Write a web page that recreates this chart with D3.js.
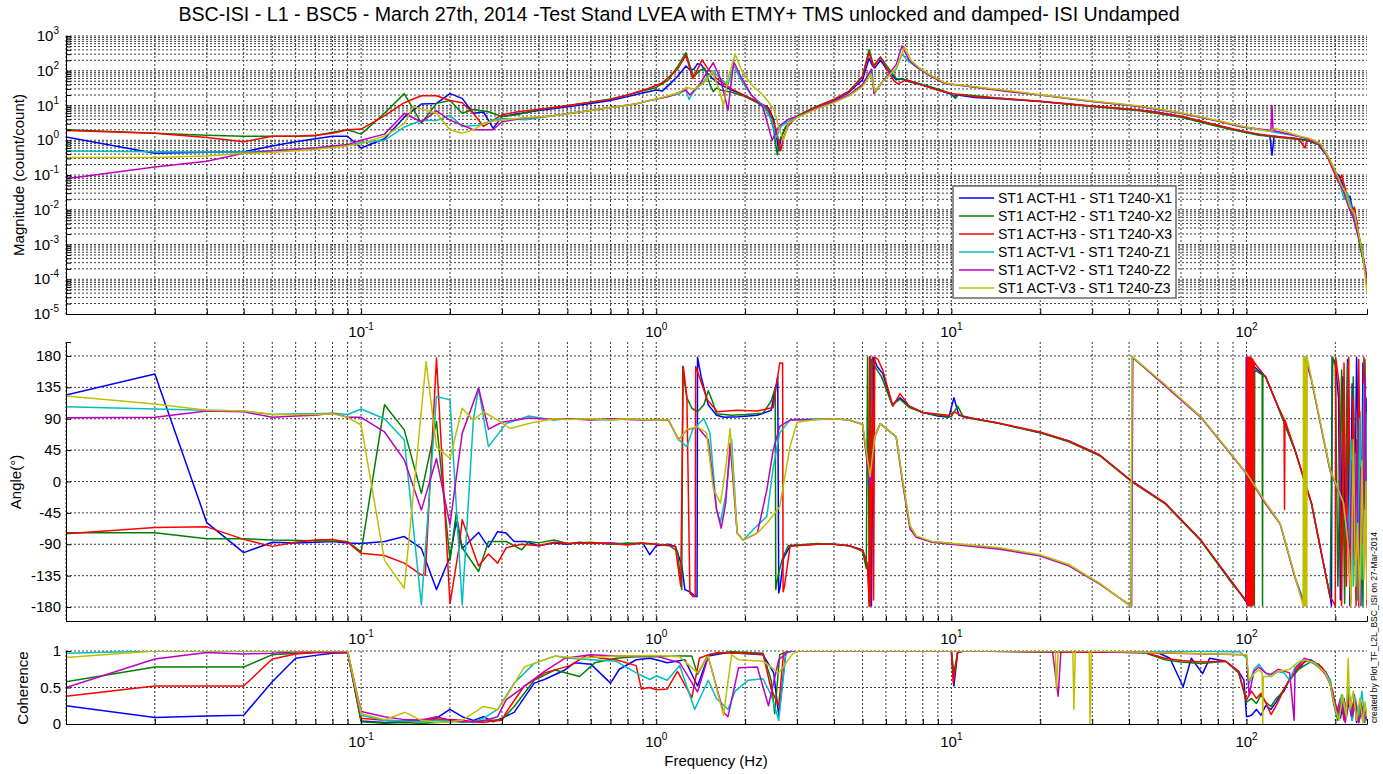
<!DOCTYPE html>
<html>
<head>
<meta charset="utf-8">
<script src="https://cdn.jsdelivr.net/npm/d3@7"></script>
<style>
body { margin: 0; background: #fff; }
svg { font-family: "Liberation Sans", Arial, Helvetica, sans-serif; }
</style>
</head>
<body>
<div id="chart"></div>
<script>
// Series names / colours (legend order)
const seriesNames = [
    "ST1 ACT-H1 - ST1 T240-X1",
    "ST1 ACT-H2 - ST1 T240-X2",
    "ST1 ACT-H3 - ST1 T240-X3",
    "ST1 ACT-V1 - ST1 T240-Z1",
    "ST1 ACT-V2 - ST1 T240-Z2",
    "ST1 ACT-V3 - ST1 T240-Z3"
];
const seriesColors = ["#0000ff", "#008000", "#ff0000", "#00bfbf", "#bf00bf", "#bfbf00"];

const titleText = "BSC-ISI - L1 - BSC5 - March 27th, 2014 -Test Stand LVEA with ETMY+ TMS unlocked and damped- ISI Undamped";
const creditText = "created by Plot_TF_L2L_BSC_ISI on 27-Mar-2014";

const phaseTicks = [-180, -135, -90, -45, 0, 45, 90, 135, 180];
const cohTicks = [0, 0.5, 1];
const cohTickLabels = ["0", "0.5", "1"];
const freqLabelExps = [-1, 0, 1, 2];
const magLabelExps = [-5, -4, -3, -2, -1, 0, 1, 2, 3];

// Magnitude [Hz, count/count]
const magH1 = [[0.01,1.25],[0.02,0.42],[0.03,0.45],[0.04,0.47],[0.05,0.68],[0.06,0.9],[0.07,1.1],[0.08,1.3],[0.09,1.3],[0.1,0.6],[0.12,1.1],[0.14,4.6],[0.16,11],[0.18,11.5],[0.2,22],[0.22,16],[0.24,6],[0.26,6.5],[0.28,2.2],[0.3,4.8],[0.34,5.8],[0.4,7.2],[0.5,9.2],[0.6,11.5],[0.7,14],[0.8,18],[0.9,23],[1.0,28],[1.05,26],[1.1,38],[1.18,68],[1.26,137],[1.3,105],[1.34,110],[1.38,160],[1.42,150],[1.48,90],[1.55,60],[1.65,40],[1.8,28],[2.0,19],[2.2,13],[2.4,8.5],[2.5,4],[2.6,0.5],[2.65,1.2],[2.75,2.5],[3.0,4.8],[3.5,9],[4.0,14],[4.5,24],[5.0,55],[5.26,230],[5.4,140],[5.5,120],[5.75,200],[6.0,120],[6.5,55],[6.8,60],[7.2,48],[8,38],[9,28],[10,21],[10.2,18],[10.5,20],[12,17],[15,15.5],[20,13],[30,9.5],[43.6,7.3],[50,6.4],[60,4.8],[70,3.5],[80,2.6],[90,2.0],[100,1.7],[120,1.3],[122,0.37],[124,1.3],[150,1.1],[160,1.0],[175,0.75],[190,0.3],[200,0.12],[207,0.09],[212,0.05],[218,0.02],[224,0.025],[230,0.008],[236,0.005],[242,0.001],[248,0.0004],[252,0.0002],[256,0.00006]];
const magH2 = [[0.01,2.0],[0.02,1.6],[0.03,1.4],[0.04,1.3],[0.05,1.3],[0.06,1.3],[0.07,1.35],[0.08,1.7],[0.09,2.0],[0.1,1.5],[0.12,6],[0.14,22],[0.16,3.1],[0.18,11.5],[0.2,14],[0.22,6],[0.24,7.7],[0.27,6.6],[0.3,4.8],[0.34,5.5],[0.4,7.6],[0.5,10],[0.6,12.5],[0.7,15.5],[0.8,20],[0.9,26],[1.0,33],[1.1,55],[1.18,130],[1.26,330],[1.3,140],[1.34,68],[1.4,100],[1.46,118],[1.52,40],[1.56,25],[1.6,32],[1.65,28],[1.8,24],[2.0,18],[2.2,12],[2.4,7],[2.5,2],[2.57,0.38],[2.62,1.0],[2.75,2.5],[3.0,5],[3.5,9.5],[4,15],[4.5,26],[5.0,70],[5.26,400],[5.45,140],[5.75,250],[6.0,150],[6.5,60],[7.0,55],[8,40],[9,30],[10,22],[10.3,16],[10.6,21],[15,16],[20,13],[30,9.3],[43.6,7.1],[60,4.6],[80,2.5],[95,1.8],[110,1.4],[130,1.2],[150,1.05],[165,0.95],[178,0.7],[188,0.35],[198,0.14],[206,0.08],[214,0.03],[222,0.012],[230,0.006],[238,0.002],[246,0.0005],[256,0.0001]];
const magH3 = [[0.01,1.9],[0.02,1.6],[0.03,1.2],[0.04,0.9],[0.05,1.3],[0.06,1.3],[0.07,1.4],[0.08,1.6],[0.09,2.0],[0.1,2.1],[0.12,5],[0.14,12],[0.16,19],[0.18,19],[0.2,14],[0.22,12],[0.24,6],[0.26,2.5],[0.28,3.8],[0.3,5.4],[0.34,6.6],[0.4,7.8],[0.48,9.4],[0.6,12.5],[0.7,15],[0.8,20],[0.95,32],[1.05,45],[1.18,110],[1.26,280],[1.33,60],[1.38,110],[1.43,205],[1.5,110],[1.6,60],[1.8,30],[2.0,19],[2.2,13],[2.4,8],[2.55,2],[2.64,0.5],[2.7,1.2],[2.8,2.6],[3.0,4.8],[3.5,9.3],[4,15],[4.5,25],[5.0,68],[5.26,330],[5.45,130],[5.75,245],[6.0,130],[6.4,50],[6.6,42],[7.0,54],[8,38],[9,28],[10,22],[12,18],[15,16],[20,13.2],[30,9.6],[43.6,7.4],[60,4.9],[80,2.7],[95,1.9],[110,1.5],[130,1.25],[150,1.1],[158,0.6],[160,1.05],[175,0.8],[185,0.45],[195,0.16],[205,0.06],[210,0.1],[218,0.03],[226,0.008],[232,0.012],[240,0.002],[248,0.0005],[256,0.00008]];
const magV1 = [[0.01,0.49],[0.02,0.47],[0.03,0.46],[0.04,0.46],[0.05,0.5],[0.06,0.55],[0.07,0.6],[0.08,0.65],[0.09,0.7],[0.1,0.85],[0.12,1.0],[0.14,2.4],[0.16,3.7],[0.18,3.7],[0.2,5.2],[0.22,2.5],[0.25,2.7],[0.28,3.8],[0.3,4.2],[0.36,3.9],[0.44,5],[0.56,6.6],[0.7,8.8],[0.85,11],[0.95,14],[1.1,18],[1.2,22],[1.26,28],[1.29,15],[1.34,25],[1.45,50],[1.55,100],[1.65,60],[1.75,40],[1.83,140],[1.95,50],[2.1,20],[2.3,10],[2.45,4],[2.55,1.2],[2.65,2.5],[2.8,3.5],[3.0,4.5],[3.5,8.5],[4,13],[4.5,20],[5.0,40],[5.38,110],[5.47,22],[5.8,45],[6.5,110],[6.8,300],[7.2,180],[7.6,130],[8.5,70],[9.5,44],[10.2,40],[15,27],[20,20],[30,13],[43.6,9.4],[60,6],[80,3.6],[95,2.5],[120,1.8],[150,1.3],[165,1.05],[178,0.75],[190,0.3],[200,0.12],[208,0.05],[214,0.02],[220,0.03],[228,0.01],[236,0.003],[244,0.001],[250,0.0003],[256,0.0001]];
const magV2 = [[0.01,0.078],[0.02,0.17],[0.03,0.25],[0.04,0.42],[0.05,0.5],[0.06,0.55],[0.07,0.6],[0.08,0.68],[0.09,0.75],[0.1,1.0],[0.12,1.5],[0.14,5.9],[0.16,3.4],[0.18,7],[0.2,3.8],[0.24,2],[0.28,2],[0.3,3.4],[0.35,4.2],[0.44,5],[0.56,6.6],[0.7,8.8],[0.85,11],[0.95,14],[1.1,18],[1.2,24],[1.26,28],[1.3,20],[1.4,40],[1.56,170],[1.65,60],[1.75,7.4],[1.83,182],[1.95,60],[2.1,20],[2.3,9],[2.47,1.0],[2.6,2.5],[2.8,4],[3.0,4.8],[3.5,8.5],[4,13],[4.5,20],[5.0,40],[5.35,110],[5.47,22],[5.8,45],[6.5,150],[6.8,520],[7.2,200],[7.6,130],[8.5,70],[9.5,43],[10.2,40],[15,26],[20,20],[30,13],[43.6,9.4],[60,6],[80,3.6],[95,2.5],[121,1.9],[122,10],[123,1.9],[150,1.3],[165,1.05],[178,0.78],[190,0.3],[200,0.13],[208,0.05],[215,0.03],[222,0.012],[230,0.006],[238,0.002],[246,0.0008],[256,0.0001]];
const magV3 = [[0.01,0.32],[0.02,0.32],[0.03,0.35],[0.04,0.42],[0.05,0.45],[0.06,0.5],[0.07,0.55],[0.08,0.62],[0.09,0.7],[0.1,0.8],[0.12,1.3],[0.14,3],[0.15,9.3],[0.16,8],[0.18,6],[0.2,2],[0.22,1.6],[0.24,2],[0.26,3],[0.28,3.5],[0.3,3.8],[0.35,4.4],[0.44,5],[0.56,6.6],[0.7,8.8],[0.85,11],[0.95,14],[1.1,19],[1.2,24],[1.26,33],[1.35,30],[1.45,45],[1.55,94],[1.63,30],[1.69,10],[1.75,60],[1.85,300],[1.95,100],[2.1,40],[2.3,20],[2.5,8],[2.62,2],[2.7,1.0],[2.8,3],[3.0,4.5],[3.5,8],[4,12],[4.5,19],[5.0,35],[5.35,80],[5.5,25],[5.8,45],[6.5,120],[6.95,490],[7.3,200],[7.8,120],[8.5,75],[9.5,45],[10.2,41],[15,28],[20,20.5],[30,13.5],[43.6,9.6],[60,6.2],[80,3.7],[95,2.6],[120,1.8],[125,2.2],[150,1.35],[165,1.1],[178,0.8],[190,0.32],[200,0.13],[210,0.05],[217,0.03],[224,0.012],[232,0.008],[240,0.002],[248,0.0005],[256,0.00004]];

// Phase [Hz, deg]
const phaH1 = [[0.01,124],[0.02,154],[0.03,-59],[0.04,-102],[0.05,-87],[0.06,-88],[0.07,-87],[0.08,-86],[0.09,-88],[0.1,-89],[0.12,-86],[0.14,-79],[0.16,-96],[0.18,-155],[0.2,-108],[0.21,-58],[0.22,-96],[0.25,-73],[0.27,-94],[0.29,-72],[0.31,-74],[0.33,-86],[0.36,-86],[0.4,-92],[0.45,-88],[0.5,-90],[0.55,-87],[0.6,-89],[0.7,-88],[0.8,-90],[0.9,-88],[0.95,-105],[1.0,-92],[1.1,-90],[1.16,-93],[1.22,-120],[1.25,-155],[1.3,-158],[1.36,-165],[1.375,-165],[1.38,178],[1.42,150],[1.5,110],[1.6,95],[1.7,92],[1.9,93],[2.2,95],[2.45,102],[2.58,150],[2.6,-160],[2.63,-150],[2.7,-110],[2.84,-92],[3.5,-90],[4,-90],[4.5,-92],[5.0,-98],[5.2,-120],[5.28,-178],[5.3,178],[5.36,-178],[5.45,178],[5.6,165],[5.85,155],[6.3,110],[6.7,120],[7.2,108],[8,99],[9,94],[9.8,92],[10.2,120],[10.6,95],[12,90],[14.6,83],[20,70],[25,58],[31.8,38],[41,0],[53,-31],[70,-84],[90,-146],[99.5,-172],[99.8,178],[100.1,-176],[100.4,178],[100.7,-174],[101,176],[101.5,172],[116,150],[128,107],[146,45],[166,-31],[192,-165],[194,-178],[195,178],[200,170],[205,120],[208,-170],[212,150],[216,-90],[220,175],[224,-178],[228,140],[232,-120],[236,178],[240,30],[244,-178],[248,170],[252,-40],[256,120]];
const phaH2 = [[0.01,-73.5],[0.02,-73.5],[0.03,-82],[0.04,-82],[0.05,-84],[0.07,-85],[0.09,-86],[0.1,-101],[0.12,110],[0.14,74],[0.16,-17],[0.18,86],[0.2,-113],[0.21,-46],[0.22,-95],[0.25,-129],[0.27,-86],[0.31,-86],[0.33,-92],[0.35,-98],[0.37,-86],[0.4,-88],[0.45,-84],[0.5,-89],[0.6,-87],[0.7,-90],[0.8,-88],[0.9,-89],[1.0,-90],[1.1,-91],[1.18,-100],[1.22,-155],[1.23,165],[1.25,140],[1.27,120],[1.32,105],[1.38,100],[1.45,110],[1.5,130],[1.55,115],[1.6,97],[1.8,95],[2.0,96],[2.3,98],[2.45,115],[2.53,134],[2.54,-155],[2.6,-130],[2.68,-110],[2.8,-92],[3.5,-89],[4,-90],[4.5,-92],[5.0,-100],[5.15,-125],[5.2,178],[5.28,-175],[5.35,175],[5.5,165],[5.8,150],[6.3,110],[6.7,118],[7.2,106],[8,99],[9,95],[10,93],[10.5,108],[11,92],[14.6,83],[20,70],[25,57],[31.8,37],[41,-1],[53,-32],[70,-85],[90,-148],[102,-175],[102.5,178],[104,165],[106,162],[106.3,-178],[106.6,160],[113,153],[113.3,-178],[113.6,152],[116,151],[128,106],[146,44],[166,-32],[192,-166],[196,178],[200,165],[204,-150],[210,160],[215,-175],[220,170],[226,-120],[230,150],[236,-170],[242,100],[248,-178],[252,175],[256,-60]];
const phaH3 = [[0.01,-75],[0.02,-66],[0.03,-65],[0.04,-83],[0.05,-93],[0.06,-87],[0.07,-84],[0.08,-83],[0.09,-87],[0.1,-103],[0.12,-106],[0.14,-117],[0.16,-134],[0.165,-134],[0.18,177],[0.2,-175],[0.215,-93],[0.22,-55],[0.25,-121],[0.27,-104],[0.29,-117],[0.31,-95],[0.35,-90],[0.4,-92],[0.45,-87],[0.5,-89],[0.6,-88],[0.7,-89],[0.8,-91],[0.9,-88],[1.0,-90],[1.1,-92],[1.16,-93],[1.21,-150],[1.235,165],[1.27,120],[1.3,-160],[1.33,-165],[1.355,-165],[1.36,165],[1.4,150],[1.49,117],[1.61,100],[1.88,102],[2.2,101],[2.49,106],[2.62,170],[2.68,170],[2.69,-158],[2.72,-150],[2.84,-93],[3.5,-90],[4,-90],[4.5,-92],[5.0,-98],[5.2,-120],[5.27,-179],[5.28,179],[5.32,-178],[5.4,178],[5.45,-170],[5.5,178],[5.64,175],[5.85,160],[6.34,108],[6.7,126],[7.2,108],[8,99],[9.8,95],[10.2,100],[11,93],[14.6,83.5],[20,71],[25,58],[31.8,38],[41,0],[53,-31],[70,-84],[90,-146],[100,-172],[100.4,178],[100.8,-178],[101.2,178],[101.6,-178],[102,178],[102.4,-178],[102.8,178],[103.2,-178],[103.6,178],[104,-178],[104.4,176],[104.8,-178],[105.2,175],[105.6,-176],[106,172],[106.5,170],[116,150],[128,107],[134,90],[134.5,-40],[135,88],[146,45],[166,-31],[192,-165],[200,-178],[200.5,178],[206,140],[210,-178],[214,170],[218,-150],[222,178],[226,-170],[230,120],[235,-178],[240,175],[245,-120],[250,178],[256,-178]];
const phaV1 = [[0.01,107],[0.02,104],[0.03,102],[0.04,101],[0.05,96],[0.06,97],[0.07,97],[0.08,98],[0.09,96],[0.1,104],[0.12,90],[0.14,59.5],[0.16,-177],[0.18,122],[0.2,117],[0.22,-177],[0.24,88],[0.25,134],[0.27,50],[0.31,83],[0.37,94],[0.45,88],[0.5,90],[0.6,89],[0.7,88],[0.8,90],[0.9,89],[1.0,88],[1.1,88],[1.19,60],[1.27,50],[1.33,75],[1.45,90],[1.52,70],[1.6,-40],[1.65,-58],[1.72,-20],[1.8,60],[1.88,-74],[1.97,-84],[2.2,-63],[2.37,-50],[2.49,20],[2.62,70],[2.84,88],[3.5,90],[4,90],[4.5,88],[5,82],[5.3,0],[5.5,64],[5.74,83],[6.5,64],[6.85,-2],[7.24,-65],[7.6,-79],[8.6,-86],[14.6,-96],[20,-106],[25,-120],[31.8,-146],[40.5,-179],[41,178],[53,138],[70,93],[90,36],[100,12],[116,-31],[130,-60],[146,-137],[158,-176],[159,178],[166,146],[192,16],[213,-31],[222,-90],[226,60],[230,-150],[234,40],[238,-170],[242,90],[246,-140],[250,140],[254,-60],[256,100]];
const phaV2 = [[0.01,91.5],[0.02,92],[0.03,101],[0.04,100],[0.05,92],[0.06,94],[0.07,95],[0.08,98],[0.09,92],[0.1,92],[0.12,71],[0.14,31],[0.16,-41],[0.18,33],[0.2,-62],[0.22,69],[0.25,134],[0.27,75],[0.3,85],[0.37,91],[0.45,89],[0.5,90],[0.6,88],[0.7,90],[0.8,89],[0.9,88],[1.0,89],[1.1,88],[1.19,60],[1.27,74],[1.38,78],[1.5,60],[1.6,-40],[1.66,-67],[1.72,-30],[1.78,55],[1.88,-74],[1.97,-84],[2.2,-74],[2.37,-12],[2.49,45],[2.62,79],[2.84,88],[3.5,89],[4,90],[4.5,88],[5,82],[5.3,-7.5],[5.5,64],[5.74,83],[6.5,64],[6.85,-5],[7.24,-68],[7.6,-80],[8.6,-87],[14.6,-97],[20,-107],[25,-121],[31.8,-147],[40.8,-179],[41.2,178],[53,137],[70,92],[90,35],[100,11],[116,-32],[130,-61],[146,-138],[157,-178],[157.5,179],[166,145],[192,15],[213,-32],[220,-60],[224,-150],[228,30],[232,-110],[236,60],[240,-178],[244,20],[248,-90],[252,150],[256,-160]];
const phaV3 = [[0.01,122.6],[0.02,111],[0.03,102],[0.04,101],[0.05,96],[0.06,96],[0.07,96],[0.08,97],[0.09,92],[0.1,81],[0.12,-113],[0.14,-153],[0.166,172],[0.18,50],[0.2,33],[0.22,105],[0.24,88],[0.26,100],[0.29,88],[0.32,76],[0.375,84],[0.45,90],[0.5,89],[0.6,90],[0.7,88],[0.8,90],[0.9,89],[1.0,88],[1.1,89],[1.19,59],[1.27,75],[1.38,78],[1.48,70],[1.56,-10],[1.65,-31],[1.72,20],[1.78,76],[1.88,-74],[1.97,-84],[2.2,-74],[2.37,-60],[2.62,-36],[2.84,50],[3.0,85],[3.5,89],[4,90],[4.5,88],[5,82],[5.3,6.8],[5.5,64],[5.74,83],[6.5,64],[6.85,0],[7.24,-63],[7.6,-78],[8.6,-86],[14.6,-95],[20,-105],[25,-119],[31.8,-146],[40.6,-179],[41,179],[53,139],[70,93],[90,36],[100,12],[116,-30],[130,-60],[146,-136],[155.5,-178],[156,179],[156.5,-178],[157,179],[157.5,-178],[158,178],[158.5,-178],[159,178],[160,-178],[160.5,178],[166,147],[192,17],[213,-30],[222,-100],[226,-178],[230,60],[234,-150],[238,-60],[242,-178],[246,30],[250,-140],[254,0],[256,-170]];

// Coherence [Hz, 0..1]
const cohH1 = [[0.01,0.25],[0.02,0.09],[0.03,0.11],[0.04,0.12],[0.05,0.58],[0.06,0.9],[0.07,0.94],[0.08,0.97],[0.09,0.98],[0.1,0.04],[0.12,0.02],[0.14,0.03],[0.16,0.04],[0.18,0.08],[0.2,0.2],[0.22,0.1],[0.24,0.05],[0.26,0.1],[0.28,0.03],[0.3,0.08],[0.33,0.16],[0.386,0.56],[0.418,0.61],[0.49,0.74],[0.53,0.84],[0.6,0.82],[0.7,0.56],[0.75,0.75],[0.855,0.88],[0.95,0.9],[1.0,0.88],[1.09,0.84],[1.25,0.88],[1.38,0.52],[1.5,0.93],[1.75,0.98],[2.3,0.95],[2.5,0.7],[2.6,0.12],[2.75,0.98],[2.9,1],[10,1],[10.2,0.52],[10.5,0.98],[11,1],[50,0.98],[55,0.9],[61,0.51],[65,0.9],[71,0.69],[75,0.9],[85,0.86],[94,0.72],[98,0.6],[100,0.1],[104,0.12],[108,0.2],[112,0.12],[116,0.25],[121,0.2],[126,0.3],[130,0.4],[134,0.45],[140,0.62],[146,0.7],[152,0.78],[157,0.85],[165,0.88],[176,0.8],[185,0.72],[192,0.6],[196,0.4],[202,0.2],[208,0.08],[214,0.35],[218,0.1],[222,0.3],[228,0.05],[232,0.4],[236,0.02],[242,0.25],[248,0.05],[252,0.18],[256,0.05]];
const cohH2 = [[0.01,0.58],[0.02,0.78],[0.03,0.78],[0.04,0.78],[0.05,0.95],[0.06,0.97],[0.07,0.98],[0.09,0.98],[0.1,0.03],[0.12,0.01],[0.14,0.02],[0.16,0.01],[0.18,0.02],[0.2,0.03],[0.22,0.04],[0.24,0.02],[0.26,0.05],[0.28,0.05],[0.3,0.06],[0.33,0.24],[0.386,0.6],[0.453,0.74],[0.55,0.65],[0.62,0.84],[0.73,0.9],[0.855,0.92],[1.0,0.92],[1.2,0.93],[1.32,0.93],[1.38,0.68],[1.5,0.95],[1.8,0.99],[2.3,0.97],[2.45,0.6],[2.52,0.14],[2.62,0.95],[2.8,1],[10,1],[10.2,0.7],[10.5,0.98],[11,1],[45,0.98],[53,0.88],[60,0.85],[70,0.83],[85,0.86],[94,0.7],[100,0.3],[104,0.35],[108,0.28],[112,0.4],[116,0.3],[121,0.24],[126,0.35],[130,0.4],[140,0.6],[150,0.75],[157,0.8],[165,0.85],[176,0.82],[185,0.7],[192,0.55],[198,0.25],[204,0.05],[210,0.3],[216,0.12],[222,0.45],[228,0.1],[234,0.3],[240,0.02],[246,0.25],[252,0.05],[256,0.15]];
const cohH3 = [[0.01,0.38],[0.02,0.52],[0.03,0.52],[0.04,0.52],[0.05,0.89],[0.06,0.96],[0.07,0.98],[0.09,0.98],[0.1,0.08],[0.12,0.05],[0.14,0.04],[0.16,0.06],[0.18,0.07],[0.2,0.06],[0.22,0.05],[0.24,0.03],[0.26,0.02],[0.28,0.04],[0.3,0.05],[0.31,0.16],[0.357,0.52],[0.418,0.7],[0.51,0.8],[0.58,0.94],[0.65,0.9],[0.73,0.88],[0.855,0.8],[0.89,0.48],[0.95,0.5],[1.0,0.47],[1.09,0.48],[1.18,0.72],[1.32,0.36],[1.4,0.9],[1.5,0.95],[1.62,0.98],[1.9,0.97],[2.3,0.96],[2.45,0.48],[2.6,0.25],[2.7,0.97],[2.85,1],[10,1],[10.15,0.56],[10.5,0.98],[11,1],[45,0.98],[53,0.9],[60,0.87],[70,0.85],[85,0.86],[94,0.72],[100,0.33],[104,0.45],[108,0.35],[112,0.42],[116,0.3],[121,0.13],[126,0.25],[134,0.47],[140,0.62],[146,0.72],[152,0.8],[160,0.88],[170,0.84],[180,0.78],[188,0.65],[196,0.45],[202,0.15],[208,0.35],[214,0.05],[220,0.4],[226,0.15],[232,0.35],[238,0.05],[244,0.3],[250,0.02],[256,0.2]];
const cohV1 = [[0.01,0.97],[0.02,1],[0.09,1],[0.1,0.12],[0.12,0.05],[0.14,0.04],[0.16,0.03],[0.18,0.05],[0.2,0.04],[0.22,0.02],[0.24,0.03],[0.26,0.08],[0.29,0.2],[0.33,0.56],[0.386,0.83],[0.453,0.93],[0.51,0.9],[0.6,0.88],[0.73,0.86],[0.855,0.7],[0.95,0.61],[1.0,0.66],[1.09,0.6],[1.2,0.8],[1.35,0.2],[1.5,0.6],[1.6,0.35],[1.75,0.2],[1.85,0.45],[2.05,0.6],[2.3,0.62],[2.45,0.4],[2.6,0.05],[2.75,0.98],[2.9,1],[40,1],[45,0.97],[50,1],[95,0.99],[100,0.9],[102,0.55],[106,0.75],[110,0.82],[116,0.7],[121,0.65],[128,0.72],[134,0.7],[140,0.6],[146,0.78],[157,0.88],[170,0.82],[185,0.7],[192,0.6],[198,0.3],[204,0.1],[210,0.4],[216,0.15],[222,0.5],[228,0.05],[234,0.35],[240,0.1],[246,0.45],[252,0.02],[256,0.2]];
const cohV2 = [[0.01,0.5],[0.02,0.89],[0.03,0.98],[0.04,0.96],[0.05,0.97],[0.06,0.99],[0.09,0.99],[0.1,0.17],[0.12,0.1],[0.14,0.06],[0.16,0.05],[0.18,0.1],[0.2,0.05],[0.22,0.03],[0.26,0.04],[0.29,0.1],[0.31,0.33],[0.418,0.72],[0.49,0.9],[0.6,0.95],[0.73,0.93],[1.0,0.93],[1.2,0.84],[1.38,0.44],[1.5,0.92],[1.69,0.16],[1.75,0.1],[1.9,0.77],[2.2,0.78],[2.4,0.25],[2.6,0.88],[2.82,1],[22,1],[23,0.38],[23.5,1],[100,0.95],[102,0.4],[106,0.72],[110,0.78],[116,0.7],[121,0.68],[128,0.75],[140,0.7],[145,0.05],[146,0.75],[157,0.9],[170,0.85],[185,0.68],[192,0.55],[198,0.35],[204,0.15],[210,0.3],[216,0.02],[222,0.35],[228,0.1],[234,0.3],[240,0.02],[246,0.2],[252,0.1],[256,0.05]];
const cohV3 = [[0.01,0.91],[0.02,1],[0.09,1],[0.1,0.14],[0.12,0.06],[0.141,0.16],[0.16,0.05],[0.18,0.02],[0.2,0.03],[0.22,0.05],[0.26,0.24],[0.29,0.2],[0.31,0.37],[0.357,0.78],[0.386,0.83],[0.453,0.93],[0.55,0.9],[0.73,0.93],[1.0,0.94],[1.2,0.92],[1.38,0.7],[1.5,0.93],[1.69,0.12],[1.8,0.95],[1.9,0.88],[2.3,0.86],[2.6,0.7],[2.9,0.96],[3,1],[22.5,1],[22.7,0.47],[23,1],[25.8,1],[26,0.2],[26.3,1],[29.3,1],[29.5,0.0],[29.8,1],[100,0.95],[102,0.6],[106,0.69],[110,0.74],[113,0.7],[113.5,0.0],[114,0.65],[121,0.65],[128,0.72],[140,0.75],[150,0.85],[157,0.88],[170,0.84],[185,0.7],[192,0.55],[200,0.2],[206,0.05],[212,0.4],[218,0.1],[221,0.9],[224,0.2],[230,0.45],[236,0.05],[242,0.35],[248,0.02],[252,0.3],[256,0.1]];

const magData = [magH1, magH2, magH3, magV1, magV2, magV3];
const phaData = [phaH1, phaH2, phaH3, phaV1, phaV2, phaV3];
const cohData = [cohH1, cohH2, cohH3, cohV1, cohV2, cohV3];

let svg;
const width = 1383, height = 774;
const left = 66, right = 1367;

// Draws one panel: grid, lines, axes
function gen_panel(id, top, bottom, y, data, isLog) {
    let x = d3.scaleLog().domain([0.01, 256]).range([left, right]);
    let g = svg.append("g");

    g.append("clipPath").attr("id", "clip" + id)
        .append("rect").attr("x", left).attr("y", top)
        .attr("width", right - left).attr("height", bottom - top);

    // grid
    let yTicks = isLog ? y.ticks() : y.tickValues;
    g.selectAll(".gx").data(x.ticks()).enter().append("line")
        .attr("x1", d => x(d)).attr("x2", d => x(d))
        .attr("y1", top).attr("y2", bottom)
        .attr("stroke", "#3a3a3a").attr("stroke-dasharray", "2,2");
    g.selectAll(".gy").data(yTicks.filter(v => y(v) < bottom - 0.5)).enter().append("line")
        .attr("x1", left).attr("x2", right)
        .attr("y1", d => y(d)).attr("y2", d => y(d))
        .attr("stroke", "#3a3a3a").attr("stroke-dasharray", "2,2");

    // data lines
    let line = d3.line().x(d => x(d[0])).y(d => y(d[1]));
    g.append("g").attr("clip-path", "url(#clip" + id + ")")
        .selectAll("path").data(data).enter().append("path")
        .attr("d", line)
        .attr("fill", "none")
        .attr("stroke", (d, i) => seriesColors[i])
        .attr("stroke-width", 1.5)
        .attr("stroke-linejoin", "round");

    // axes (ticks pointing inward)
    g.append("g").attr("transform", "translate(0," + bottom + ")")
        .call(d3.axisBottom(x).tickValues(x.ticks()).tickSize(-5).tickFormat(""))
        .call(a => a.select(".domain").attr("stroke", "#000"));
    g.append("g").attr("transform", "translate(" + left + ",0)")
        .call(d3.axisLeft(y).tickValues(yTicks).tickSize(-5).tickFormat(""))
        .call(a => a.select(".domain").attr("stroke", "#000"));

    // x tick labels 10^n
    freqLabelExps.forEach(e => {
        let t = g.append("text").attr("x", x(Math.pow(10, e))).attr("y", bottom + 23)
            .attr("text-anchor", "middle").attr("font-size", 15).attr("fill", "#000");
        t.append("tspan").text("10");
        t.append("tspan").attr("dy", -7).attr("font-size", 10).text(e);
    });
    return g;
}

function gen_chart() {
    svg = d3.select("#chart").append("svg")
        .attr("width", width).attr("height", height);

    // title, fit to the reference width
    let title = svg.append("text").attr("x", 679).attr("y", 21)
        .attr("text-anchor", "middle").attr("font-size", 17).attr("fill", "#000")
        .text(titleText);
    let tw = title.node().getComputedTextLength();
    title.attr("font-size", 17 * 1002 / tw);

    // Magnitude
    let yMag = d3.scaleLog().domain([1e-5, 1e3]).range([314, 36]);
    let g1 = gen_panel(1, 36, 314, yMag, magData, true);
    magLabelExps.forEach(e => {
        let t = g1.append("text").attr("x", 59).attr("y", yMag(Math.pow(10, e)) + 5)
            .attr("text-anchor", "end").attr("font-size", 15).attr("fill", "#000");
        t.append("tspan").text("10");
        t.append("tspan").attr("dy", -7).attr("font-size", 10).text(e);
    });
    svg.append("text").attr("transform", "translate(24,175) rotate(-90)")
        .attr("text-anchor", "middle").attr("font-size", 15).text("Magnitude (count/count)");

    // Phase
    let yPha = d3.scaleLinear().domain([-200, 200]).range([621, 342]);
    yPha.tickValues = phaseTicks;
    let g2 = gen_panel(2, 342, 621, yPha, phaData, false);
    g2.selectAll(".pl").data(phaseTicks).enter().append("text")
        .attr("x", 61).attr("y", d => yPha(d) + 5)
        .attr("text-anchor", "end").attr("font-size", 15).text(d => d);
    svg.append("text").attr("transform", "translate(21,482) rotate(-90)")
        .attr("text-anchor", "middle").attr("font-size", 15).text("Angle(\u00B0)");

    // Coherence
    let yCoh = d3.scaleLinear().domain([0, 1]).range([724, 651]);
    yCoh.tickValues = cohTicks;
    let g3 = gen_panel(3, 651, 724, yCoh, cohData, false);
    g3.selectAll(".cl").data(cohTicks).enter().append("text")
        .attr("x", 61).attr("y", d => yCoh(d) + 5)
        .attr("text-anchor", "end").attr("font-size", 15).text((d, i) => cohTickLabels[i]);
    svg.append("text").attr("transform", "translate(28,688) rotate(-90)")
        .attr("text-anchor", "middle").attr("font-size", 15).text("Coherence");

    svg.append("text").attr("x", 716).attr("y", 766)
        .attr("text-anchor", "middle").attr("font-size", 15).text("Frequency (Hz)");

    // legend
    let lg = svg.append("g");
    lg.append("rect").attr("x", 953).attr("y", 186).attr("width", 223).attr("height", 112)
        .attr("fill", "#fff").attr("stroke", "#6a6a6a").attr("stroke-width", 1.5);
    seriesNames.forEach((name, i) => {
        let yy = 198 + i * 18;
        lg.append("line").attr("x1", 959).attr("x2", 994).attr("y1", yy).attr("y2", yy)
            .attr("stroke", seriesColors[i]).attr("stroke-width", 1.5);
        lg.append("text").attr("x", 998).attr("y", yy + 5)
            .attr("font-size", 14).text(name);
    });

    // credit text on the right edge
    svg.append("text").attr("transform", "translate(1377,723) rotate(-90)")
        .attr("font-size", 8.5).text(creditText);
}

// MAIN
gen_chart();
</script>
</body>
</html>
